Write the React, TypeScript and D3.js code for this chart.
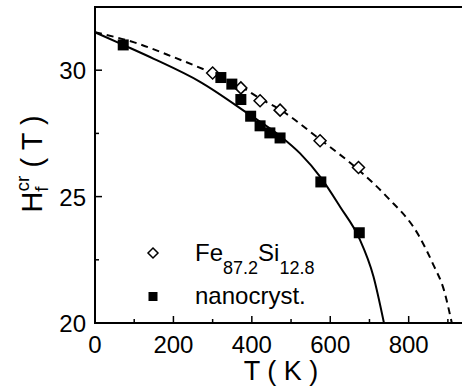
import React from "react";
import * as d3 from "d3";

const W = 462;
const H = 388;

// measured data
const nanoT = [72, 321, 349, 372, 397, 421, 446, 472, 576, 674];
const nanoH = [31.0, 29.71, 29.45, 28.84, 28.18, 27.8, 27.52, 27.32, 25.58, 23.57];

const feT = [300, 372, 421, 472, 574, 672];
const feH = [29.89, 29.3, 28.79, 28.42, 27.21, 26.15];

// fitted curves
const solidT = [0, 72, 150, 268, 395, 472, 523, 576, 625, 674, 710, 737];
const solidH = [31.5, 31.0, 30.45, 29.54, 28.23, 27.4, 26.71, 25.75, 24.6, 23.35, 21.85, 20.0];

const dashT = [0, 100, 200, 300, 372, 421, 472, 574, 672, 744, 825, 863, 890, 910];
const dashH = [31.5, 31.1, 30.52, 29.88, 29.35, 28.88, 28.44, 27.26, 26.06, 25.0, 23.48, 22.3, 21.3, 20.0];

const xMajor = [0, 200, 400, 600, 800];
const xMinor = [100, 300, 500, 700, 900];
const yMajor = [20, 25, 30];
const yMinor = [22.5, 27.5];

const FONT = "'Liberation Sans', Arial, Helvetica, sans-serif";

export default function App() {
  const left = 95;
  const top = 7;
  const bottom = 323;
  const x = d3.scaleLinear().domain([0, 936]).range([left, W]);
  const y = d3.scaleLinear().domain([20, 32.5]).range([bottom, top]);

  const line = d3
    .line<[number, number]>()
    .x((d) => x(d[0]))
    .y((d) => y(d[1]))
    .curve(d3.curveMonotoneX);

  const solidPts = solidT.map((t, i) => [t, solidH[i]] as [number, number]);
  const dashPts = dashT.map((t, i) => [t, dashH[i]] as [number, number]);

  const sq = 11;
  const dm = 6;
  const diamond = (cx: number, cy: number, r: number) =>
    `M${cx},${cy - r}L${cx + r},${cy}L${cx},${cy + r}L${cx - r},${cy}Z`;

  return (
    <svg width={W} height={H} style={{ display: "block", position: "absolute", left: 0, top: 0 }} fontFamily={FONT}>
      <rect x={0} y={0} width={W} height={H} fill="#fff" />
      <defs>
        <clipPath id="plotclip">
          <rect x={left} y={top} width={W - left} height={bottom - top} />
        </clipPath>
      </defs>
      {/* curves */}
      <g clipPath="url(#plotclip)">
        <path d={line(dashPts) || ""} fill="none" stroke="#000" strokeWidth={2} strokeDasharray="7,5" />
        <path d={line(solidPts) || ""} fill="none" stroke="#000" strokeWidth={2} />
      </g>
      {/* markers */}
      {feT.map((t, i) => (
        <path key={"fe" + i} d={diamond(x(t), y(feH[i]), dm)} fill="#fff" stroke="#000" strokeWidth={1.5} />
      ))}
      {nanoT.map((t, i) => (
        <rect key={"n" + i} x={x(t) - sq / 2} y={y(nanoH[i]) - sq / 2} width={sq} height={sq} fill="#000" />
      ))}
      {/* axes frame */}
      <line x1={left} x2={W} y1={top} y2={top} stroke="#000" strokeWidth={2} />
      <line x1={left} x2={W} y1={bottom} y2={bottom} stroke="#000" strokeWidth={2} />
      <line x1={left} x2={left} y1={top - 1} y2={bottom + 1} stroke="#000" strokeWidth={2} />
      {/* x ticks */}
      {xMajor.map((t) => (
        <g key={"xm" + t}>
          <line x1={x(t)} x2={x(t)} y1={bottom} y2={bottom - 7} stroke="#000" strokeWidth={1.5} />
          <text x={x(t)} y={353} fontSize={24} textAnchor="middle">
            {t}
          </text>
        </g>
      ))}
      {xMinor.map((t) => (
        <line key={"xn" + t} x1={x(t)} x2={x(t)} y1={bottom} y2={bottom - 4} stroke="#000" strokeWidth={1.5} />
      ))}
      {/* y ticks */}
      {yMajor.map((v) => (
        <g key={"ym" + v}>
          <line x1={left} x2={left + 7} y1={y(v)} y2={y(v)} stroke="#000" strokeWidth={1.5} />
          <text x={86} y={y(v) + 9} fontSize={24} textAnchor="end">
            {v}
          </text>
        </g>
      ))}
      {yMinor.map((v) => (
        <line key={"yn" + v} x1={left} x2={left + 4} y1={y(v)} y2={y(v)} stroke="#000" strokeWidth={1.5} />
      ))}
      {/* axis titles */}
      <text x={281} y={380} fontSize={27} textAnchor="middle">
        T ( K )
      </text>
      <text transform={`translate(42,164) rotate(-90)`} fontSize={29} textAnchor="middle">
        H
        <tspan fontSize={19} dy={6}>f</tspan>
        <tspan fontSize={19} dx={-5} dy={-19}>cr</tspan>
        <tspan fontSize={29} dy={13}>{"\u00a0( T )"}</tspan>
      </text>
      {/* legend */}
      <path d={diamond(153, 253, 5)} fill="#fff" stroke="#000" strokeWidth={1.5} />
      <rect x={148.5} y={292} width={9} height={9} fill="#000" />
      <text x={195} y={261} fontSize={24}>
        Fe
        <tspan fontSize={18} dy={13}>87.2</tspan>
        <tspan fontSize={24} dy={-13}>Si</tspan>
        <tspan fontSize={18} dy={13}>12.8</tspan>
      </text>
      <text x={195} y={304} fontSize={24}>
        nanocryst.
      </text>
    </svg>
  );
}
